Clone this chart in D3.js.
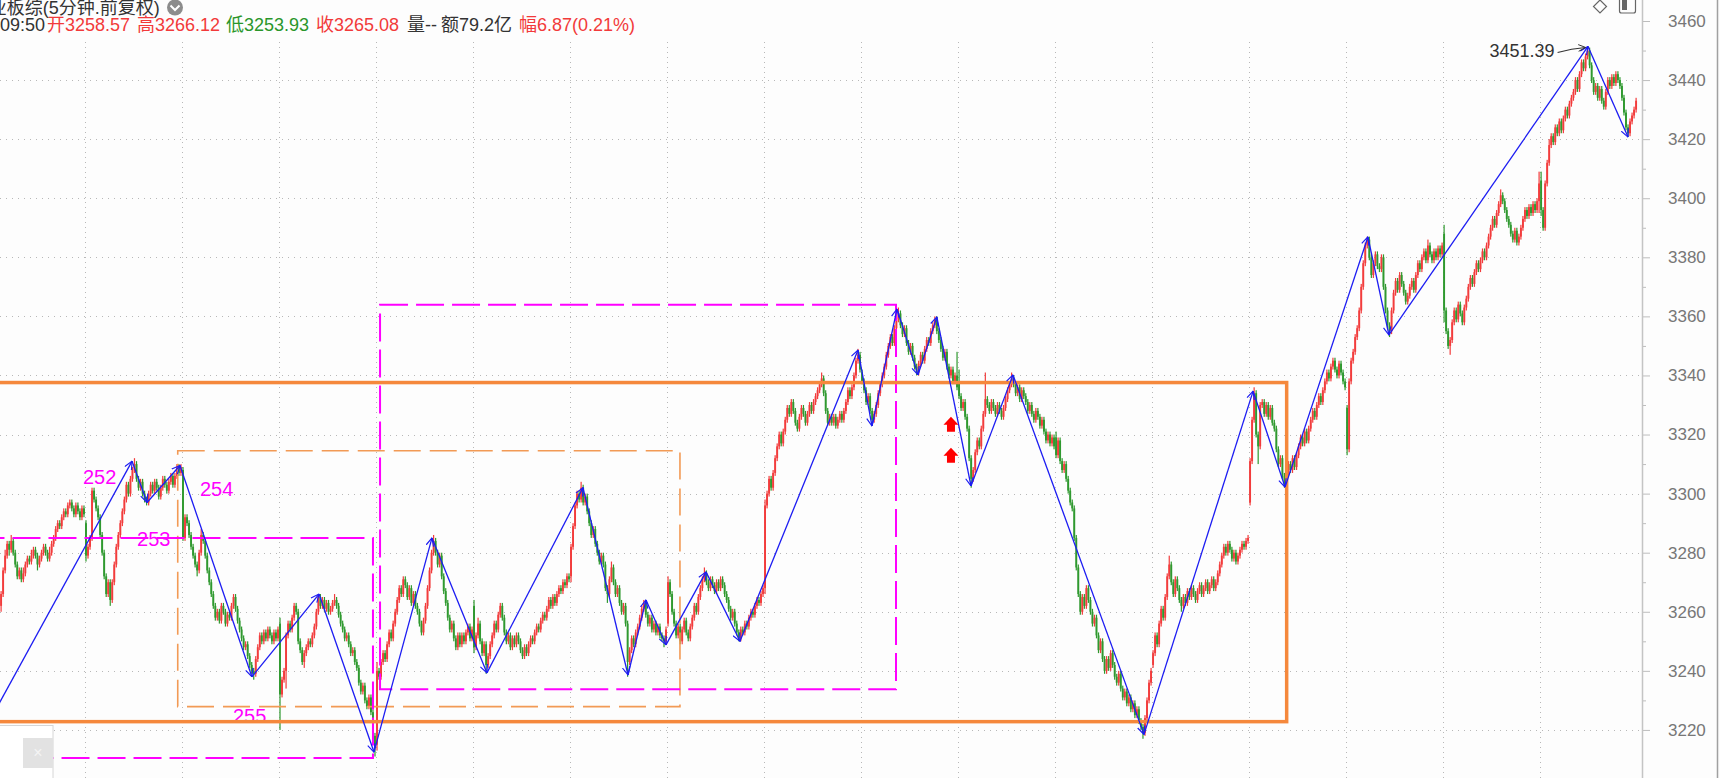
<!DOCTYPE html>
<html><head><meta charset="utf-8">
<script src="https://cdn.jsdelivr.net/npm/d3@7"></script>
<style>html,body{margin:0;padding:0;background:#fdfdfd;overflow:hidden}svg{display:block}</style>
</head><body>
<svg id="chart" width="1720" height="778"></svg>
<script>
// ---------- DATA: 5-minute bars (one line per trading day) ----------
const open = [
3262,3266,3274,3279,3283,3281,3284,3280,3276,3272,3274,3271,3273,3276,3278,3277,3279,3281,3279,3276,3278,3280,3282,3280,3278,3280,3283,3285,3288,3290,3289,3292,3294,3293,3296,3297,3295,3293,3296,3294,3292,3295,
3290,3279,3282,3285,3301,3298,3295,3292,3286,3280,3272,3266,3270,3264,3270,3276,3282,3286,3290,3294,3298,3303,3300,3305,3308,3310,3305,3302,3304,3300,3298,3297,3300,3303,3301,3304,3302,3299,3302,3305,3303,3301,3304,3306,3303,3306,3309,3307,
3308,3285,3292,3290,3286,3282,3279,3276,3274,3280,3286,3284,3279,3274,3270,3266,3262,3258,3260,3257,3262,3260,3256,3259,3258,3262,3265,3261,3257,3254,3251,3248,3249,3245,3242,3240,3239,3244,3248,3252,3250,3253,3251,3254,3252,3250,3253,3251,
3256,3232,3237,3240,3252,3256,3254,3258,3262,3260,3250,3247,3243,3246,3248,3250,3249,3252,3255,3260,3265,3262,3264,3261,3263,3260,3261,3263,3264,3262,3259,3256,3254,3251,3252,3249,3246,3247,3243,3241,3236,3233,3235,3230,3228,3231,3226,3218,
3215,3240,3238,3243,3246,3244,3249,3253,3251,3256,3260,3264,3268,3266,3271,3269,3265,3268,3263,3266,3262,3260,3256,3253,3257,3262,3268,3274,3280,3284,3280,3276,3279,3272,3267,3263,3258,3254,3256,3251,3248,3252,3249,3252,3250,3253,3255,3251,
3262,3248,3252,3256,3250,3246,3249,3242,3245,3249,3252,3256,3254,3259,3262,3258,3253,3250,3252,3248,3251,3249,3252,3250,3247,3245,3248,3246,3249,3251,3250,3253,3255,3254,3257,3259,3258,3261,3264,3262,3265,3263,3266,3268,3267,3270,3269,3272,
3272,3282,3289,3296,3300,3298,3302,3297,3299,3294,3290,3286,3288,3283,3280,3277,3279,3276,3268,3266,3271,3275,3270,3266,3268,3263,3260,3262,3256,3243,3247,3251,3249,3253,3255,3258,3261,3263,3259,3256,3258,3254,3256,3253,3255,3252,3251,3250,
3256,3270,3266,3260,3256,3252,3255,3250,3254,3257,3253,3251,3255,3258,3262,3260,3265,3268,3271,3273,3270,3268,3271,3269,3267,3270,3268,3271,3269,3266,3264,3261,3258,3260,3256,3253,3251,3254,3253,3256,3255,3258,3260,3259,3262,3264,3263,3266,
3268,3296,3300,3305,3302,3307,3312,3316,3320,3317,3321,3325,3329,3327,3331,3328,3324,3322,3326,3329,3327,3324,3327,3330,3328,3331,3333,3335,3337,3339,3334,3328,3324,3326,3324,3326,3323,3325,3327,3325,3328,3331,3335,3333,3336,3340,3345,3347,
3341,3338,3335,3331,3333,3328,3325,3327,3330,3334,3337,3340,3343,3347,3350,3353,3351,3356,3359,3361,3357,3354,3356,3351,3348,3350,3346,3343,3341,3344,3347,3345,3349,3352,3351,3355,3357,3359,3355,3352,3349,3346,3348,3343,3340,3342,3338,3340,
3338,3333,3329,3331,3326,3322,3312,3305,3308,3314,3318,3316,3322,3327,3332,3330,3328,3331,3329,3327,3330,3328,3326,3329,3332,3335,3337,3339,3337,3334,3336,3332,3335,3333,3331,3328,3330,3327,3325,3328,3326,3323,3325,3321,3318,3320,3317,3319,
3319,3313,3318,3311,3308,3310,3305,3301,3297,3295,3285,3275,3266,3260,3265,3262,3268,3264,3260,3256,3258,3252,3247,3250,3244,3240,3244,3241,3246,3242,3238,3236,3239,3234,3231,3233,3229,3231,3227,3229,3225,3227,3223,3221,3219,3224,3230,3236,
3242,3246,3252,3249,3256,3261,3258,3265,3272,3276,3270,3266,3271,3268,3264,3262,3265,3263,3267,3265,3268,3266,3264,3267,3269,3266,3268,3270,3267,3269,3271,3268,3270,3273,3276,3279,3282,3280,3283,3281,3278,3280,3277,3279,3281,3283,3282,3284,
3297,3311,3325,3334,3320,3316,3330,3331,3327,3330,3326,3329,3324,3322,3315,3310,3312,3306,3303,3307,3310,3308,3312,3309,3313,3316,3319,3317,3321,3318,3322,3325,3328,3326,3330,3333,3331,3335,3338,3341,3339,3343,3345,3342,3340,3344,3341,3338,
3329,3315,3338,3345,3348,3353,3356,3362,3370,3378,3384,3386,3380,3374,3378,3381,3377,3376,3380,3370,3362,3357,3355,3362,3368,3372,3369,3374,3371,3368,3365,3367,3370,3372,3369,3374,3378,3376,3380,3382,3379,3384,3381,3379,3382,3380,3383,3381,
3388,3362,3355,3350,3352,3358,3362,3359,3364,3361,3358,3363,3366,3370,3373,3371,3375,3378,3376,3379,3382,3380,3384,3387,3390,3393,3391,3395,3398,3401,3399,3396,3393,3391,3388,3386,3389,3385,3387,3390,3393,3396,3394,3397,3395,3398,3396,3399,
3406,3396,3390,3405,3412,3418,3421,3419,3424,3422,3426,3423,3427,3430,3428,3432,3434,3436,3440,3437,3442,3446,3444,3448,3450,3445,3440,3436,3438,3434,3437,3433,3431,3436,3440,3438,3441,3439,3442,3440,3438,3434,3429,3424,3422,3426,3428,3430
];
const high = [
3267,3275,3281,3284,3284,3286,3285,3281,3277,3275,3275,3275,3277,3279,3279,3281,3282,3282,3280,3279,3281,3283,3283,3281,3282,3284,3286,3289,3291,3291,3293,3295,3295,3297,3298,3298,3296,3297,3297,3295,3296,3296,
3291,3283,3286,3302,3302,3299,3296,3293,3287,3281,3273,3271,3271,3271,3277,3283,3287,3291,3295,3299,3304,3304,3306,3309,3312,3311,3306,3305,3305,3301,3299,3301,3304,3304,3305,3305,3303,3303,3306,3306,3304,3305,3307,3307,3307,3310,3310,3310,
3309,3293,3293,3291,3287,3283,3280,3277,3281,3288,3287,3285,3280,3275,3271,3267,3263,3261,3261,3263,3263,3261,3260,3260,3263,3266,3266,3262,3258,3255,3252,3250,3250,3246,3243,3241,3245,3249,3253,3253,3254,3254,3255,3255,3253,3254,3254,3255,
3258,3238,3241,3253,3257,3257,3259,3263,3263,3261,3251,3248,3247,3249,3251,3251,3253,3256,3261,3266,3266,3265,3265,3264,3264,3262,3264,3266,3265,3263,3260,3257,3255,3253,3253,3250,3248,3248,3244,3242,3237,3236,3236,3231,3232,3232,3227,3219,
3243,3241,3244,3247,3247,3250,3254,3254,3257,3261,3265,3269,3269,3272,3272,3270,3269,3269,3267,3267,3263,3261,3257,3258,3263,3269,3275,3281,3286,3285,3281,3280,3280,3273,3268,3264,3259,3257,3257,3252,3253,3253,3253,3253,3254,3256,3256,3255,
3264,3253,3258,3257,3251,3250,3250,3246,3250,3253,3257,3257,3260,3263,3263,3259,3254,3253,3253,3252,3252,3253,3253,3251,3248,3249,3249,3250,3252,3252,3254,3256,3256,3258,3260,3260,3262,3265,3265,3266,3266,3267,3269,3269,3271,3271,3273,3273,
3283,3290,3297,3301,3301,3304,3303,3300,3300,3295,3291,3289,3289,3284,3281,3280,3280,3277,3269,3272,3277,3276,3271,3269,3269,3264,3263,3263,3257,3248,3252,3252,3254,3256,3259,3262,3264,3264,3260,3259,3259,3257,3257,3256,3256,3253,3252,3255,
3272,3271,3267,3261,3257,3256,3256,3255,3258,3258,3254,3256,3259,3263,3263,3266,3269,3272,3275,3274,3271,3272,3272,3270,3271,3271,3272,3272,3270,3267,3265,3262,3261,3261,3257,3254,3255,3255,3257,3257,3259,3261,3261,3263,3265,3265,3267,3269,
3298,3301,3306,3306,3308,3313,3317,3321,3321,3322,3326,3330,3330,3332,3332,3329,3325,3327,3330,3330,3328,3328,3331,3331,3332,3334,3336,3338,3341,3340,3335,3329,3327,3327,3327,3327,3326,3328,3328,3329,3332,3336,3336,3337,3341,3346,3349,3348,
3342,3339,3336,3334,3334,3329,3328,3331,3335,3338,3341,3344,3348,3351,3354,3354,3357,3360,3363,3362,3358,3357,3357,3352,3351,3351,3347,3344,3345,3348,3348,3350,3353,3353,3356,3358,3360,3360,3356,3353,3350,3349,3349,3344,3343,3343,3341,3348,
3342,3334,3332,3332,3327,3323,3313,3309,3315,3319,3319,3323,3328,3341,3333,3331,3332,3332,3330,3331,3331,3329,3330,3333,3336,3338,3341,3340,3338,3337,3337,3336,3336,3334,3332,3331,3331,3328,3329,3329,3327,3326,3326,3322,3321,3321,3320,3320,
3321,3319,3319,3312,3311,3311,3306,3302,3298,3296,3286,3276,3267,3266,3266,3269,3269,3265,3261,3259,3259,3253,3251,3251,3245,3245,3245,3247,3247,3243,3239,3240,3240,3235,3234,3234,3232,3232,3230,3230,3228,3228,3224,3222,3225,3231,3237,3241,
3247,3253,3253,3257,3262,3262,3266,3273,3279,3277,3271,3272,3272,3269,3265,3266,3266,3268,3268,3269,3269,3267,3268,3270,3270,3269,3271,3271,3270,3272,3272,3271,3274,3277,3280,3283,3283,3284,3284,3282,3281,3281,3280,3282,3284,3284,3285,3286,
3312,3326,3336,3335,3321,3331,3332,3332,3331,3331,3330,3330,3325,3323,3316,3313,3313,3307,3308,3311,3311,3313,3313,3314,3317,3320,3320,3322,3322,3323,3326,3329,3329,3331,3334,3334,3336,3339,3342,3342,3344,3346,3346,3343,3345,3345,3342,3339,
3330,3339,3346,3349,3354,3357,3363,3371,3379,3385,3387,3387,3381,3379,3382,3382,3378,3381,3381,3371,3363,3358,3363,3369,3373,3373,3375,3375,3372,3369,3368,3371,3373,3373,3375,3379,3379,3381,3383,3383,3386,3385,3382,3383,3383,3384,3384,3385,
3391,3363,3356,3353,3359,3363,3363,3365,3365,3362,3364,3367,3371,3374,3374,3376,3379,3379,3380,3383,3383,3385,3388,3391,3394,3394,3396,3399,3403,3402,3400,3397,3394,3392,3389,3390,3390,3388,3391,3394,3397,3397,3398,3398,3399,3399,3400,3409,
3409,3397,3406,3413,3420,3422,3422,3425,3425,3427,3427,3428,3431,3431,3433,3435,3437,3441,3441,3443,3447,3447,3449,3451.4,3451,3446,3441,3439,3439,3438,3438,3434,3437,3441,3441,3442,3442,3443,3443,3441,3439,3435,3430,3425,3427,3429,3431,3434
];
const low = [
3260,3265,3273,3278,3279,3280,3279,3275,3271,3271,3270,3270,3272,3275,3276,3276,3278,3278,3274,3275,3277,3279,3279,3277,3277,3279,3282,3284,3287,3288,3288,3291,3292,3292,3295,3294,3292,3292,3293,3291,3291,3292,
3277,3278,3281,3284,3297,3294,3291,3285,3279,3271,3265,3265,3262,3263,3269,3275,3281,3285,3289,3293,3297,3299,3299,3304,3307,3304,3301,3301,3299,3297,3296,3296,3299,3300,3300,3301,3298,3298,3301,3302,3300,3300,3303,3302,3302,3305,3306,3306,
3284,3284,3289,3285,3281,3278,3275,3272,3273,3279,3283,3278,3273,3269,3265,3261,3257,3257,3256,3256,3259,3255,3255,3257,3257,3261,3260,3256,3253,3250,3247,3247,3244,3241,3239,3237,3238,3243,3247,3249,3249,3250,3250,3251,3249,3249,3250,3250,
3220,3231,3236,3234,3251,3253,3253,3257,3259,3249,3246,3242,3241,3245,3247,3248,3248,3251,3254,3259,3261,3261,3260,3260,3259,3259,3260,3262,3261,3258,3255,3253,3250,3250,3248,3245,3245,3242,3240,3235,3232,3232,3229,3227,3227,3225,3217,3211,
3213,3237,3237,3242,3243,3243,3248,3250,3250,3255,3259,3263,3265,3265,3268,3264,3264,3262,3262,3261,3259,3255,3252,3252,3256,3261,3267,3273,3279,3279,3275,3275,3271,3266,3262,3257,3253,3253,3250,3247,3247,3248,3248,3249,3249,3252,3250,3250,
3246,3247,3251,3249,3245,3245,3239,3241,3244,3248,3251,3253,3253,3258,3257,3252,3249,3249,3247,3247,3248,3248,3249,3246,3244,3244,3245,3245,3248,3249,3249,3252,3253,3253,3256,3257,3257,3260,3261,3261,3262,3262,3265,3266,3266,3268,3268,3270,
3270,3281,3288,3295,3297,3297,3296,3296,3293,3289,3285,3285,3282,3279,3276,3276,3275,3267,3263,3265,3270,3269,3265,3265,3262,3259,3259,3255,3238,3242,3246,3248,3248,3252,3254,3257,3260,3258,3255,3255,3253,3253,3252,3252,3251,3250,3248,3249,
3255,3265,3259,3255,3251,3251,3249,3249,3253,3252,3250,3250,3254,3257,3259,3259,3264,3267,3270,3269,3267,3267,3268,3266,3266,3267,3267,3268,3265,3263,3260,3257,3257,3255,3252,3250,3250,3252,3252,3254,3254,3257,3258,3258,3261,3262,3262,3265,
3266,3295,3299,3301,3301,3306,3311,3315,3316,3316,3320,3324,3326,3326,3327,3323,3321,3321,3325,3326,3323,3323,3326,3327,3327,3330,3332,3334,3336,3333,3327,3323,3323,3323,3323,3322,3322,3324,3324,3324,3327,3330,3332,3332,3335,3339,3344,3341,
3337,3334,3330,3330,3327,3323,3324,3326,3329,3333,3336,3339,3342,3346,3349,3350,3350,3355,3358,3356,3353,3353,3350,3347,3347,3345,3342,3340,3340,3343,3344,3344,3348,3350,3350,3354,3356,3354,3351,3348,3345,3345,3342,3339,3339,3337,3337,3335,
3332,3328,3328,3325,3321,3311,3302,3304,3307,3313,3315,3315,3321,3326,3329,3327,3327,3328,3326,3326,3327,3325,3325,3328,3331,3334,3336,3336,3333,3333,3331,3331,3332,3330,3327,3327,3326,3324,3324,3325,3322,3322,3320,3317,3317,3316,3316,3315,
3312,3312,3310,3307,3307,3304,3300,3296,3294,3284,3274,3265,3259,3259,3261,3261,3263,3259,3255,3255,3251,3246,3246,3243,3239,3239,3240,3240,3241,3237,3235,3235,3233,3230,3230,3228,3228,3226,3226,3224,3224,3222,3220,3217,3218,3223,3229,3235,
3241,3245,3248,3248,3255,3257,3257,3264,3271,3269,3265,3265,3267,3263,3260,3261,3262,3262,3264,3264,3265,3263,3263,3266,3265,3265,3267,3266,3266,3268,3267,3267,3269,3272,3275,3278,3279,3279,3280,3277,3277,3276,3276,3278,3280,3281,3281,3283,
3296,3310,3324,3319,3310,3315,3329,3326,3326,3325,3325,3323,3321,3314,3309,3309,3305,3302,3302,3306,3307,3307,3308,3308,3312,3315,3316,3316,3317,3317,3321,3324,3325,3325,3329,3330,3330,3334,3337,3338,3338,3342,3341,3339,3339,3340,3337,3335,
3313,3314,3337,3344,3347,3352,3355,3361,3369,3377,3383,3379,3373,3373,3377,3376,3375,3375,3369,3361,3356,3353,3354,3361,3367,3368,3368,3370,3367,3364,3364,3366,3369,3368,3368,3373,3375,3375,3379,3378,3378,3380,3378,3378,3379,3379,3380,3380,
3358,3354,3349,3347,3351,3357,3358,3358,3360,3357,3357,3362,3365,3369,3370,3370,3374,3375,3375,3378,3379,3379,3383,3386,3389,3390,3390,3394,3397,3398,3395,3392,3390,3387,3385,3385,3384,3384,3386,3389,3392,3393,3393,3394,3394,3395,3395,3395,
3394,3389,3389,3404,3411,3417,3418,3418,3421,3421,3422,3422,3426,3427,3427,3431,3433,3435,3436,3436,3441,3443,3443,3447,3444,3439,3435,3435,3433,3433,3432,3430,3430,3435,3437,3437,3438,3438,3439,3437,3433,3428,3423,3420.7,3421,3425,3427,3429
];
const close = [
3266,3274,3279,3283,3281,3284,3280,3276,3272,3274,3271,3273,3276,3278,3277,3279,3281,3279,3276,3278,3280,3282,3280,3278,3280,3283,3285,3288,3290,3289,3292,3294,3293,3296,3297,3295,3293,3296,3294,3292,3295,3293,
3279,3282,3285,3301,3298,3295,3292,3286,3280,3272,3266,3270,3264,3270,3276,3282,3286,3290,3294,3298,3303,3300,3305,3308,3310,3305,3302,3304,3300,3298,3297,3300,3303,3301,3304,3302,3299,3302,3305,3303,3301,3304,3306,3303,3306,3309,3307,3309,
3285,3292,3290,3286,3282,3279,3276,3274,3280,3286,3284,3279,3274,3270,3266,3262,3258,3260,3257,3262,3260,3256,3259,3258,3262,3265,3261,3257,3254,3251,3248,3249,3245,3242,3240,3239,3244,3248,3252,3250,3253,3251,3254,3252,3250,3253,3251,3254,
3232,3237,3240,3252,3256,3254,3258,3262,3260,3250,3247,3243,3246,3248,3250,3249,3252,3255,3260,3265,3262,3264,3261,3263,3260,3261,3263,3264,3262,3259,3256,3254,3251,3252,3249,3246,3247,3243,3241,3236,3233,3235,3230,3228,3231,3226,3218,3214,
3240,3238,3243,3246,3244,3249,3253,3251,3256,3260,3264,3268,3266,3271,3269,3265,3268,3263,3266,3262,3260,3256,3253,3257,3262,3268,3274,3280,3284,3280,3276,3279,3272,3267,3263,3258,3254,3256,3251,3248,3252,3249,3252,3250,3253,3255,3251,3254,
3248,3252,3256,3250,3246,3249,3242,3245,3249,3252,3256,3254,3259,3262,3258,3253,3250,3252,3248,3251,3249,3252,3250,3247,3245,3248,3246,3249,3251,3250,3253,3255,3254,3257,3259,3258,3261,3264,3262,3265,3263,3266,3268,3267,3270,3269,3272,3271,
3282,3289,3296,3300,3298,3302,3297,3299,3294,3290,3286,3288,3283,3280,3277,3279,3276,3268,3266,3271,3275,3270,3266,3268,3263,3260,3262,3256,3243,3247,3251,3249,3253,3255,3258,3261,3263,3259,3256,3258,3254,3256,3253,3255,3252,3251,3250,3254,
3270,3266,3260,3256,3252,3255,3250,3254,3257,3253,3251,3255,3258,3262,3260,3265,3268,3271,3273,3270,3268,3271,3269,3267,3270,3268,3271,3269,3266,3264,3261,3258,3260,3256,3253,3251,3254,3253,3256,3255,3258,3260,3259,3262,3264,3263,3266,3268,
3296,3300,3305,3302,3307,3312,3316,3320,3317,3321,3325,3329,3327,3331,3328,3324,3322,3326,3329,3327,3324,3327,3330,3328,3331,3333,3335,3337,3339,3334,3328,3324,3326,3324,3326,3323,3325,3327,3325,3328,3331,3335,3333,3336,3340,3345,3347,3342,
3338,3335,3331,3333,3328,3325,3327,3330,3334,3337,3340,3343,3347,3350,3353,3351,3356,3359,3361,3357,3354,3356,3351,3348,3350,3346,3343,3341,3344,3347,3345,3349,3352,3351,3355,3357,3359,3355,3352,3349,3346,3348,3343,3340,3342,3338,3340,3336,
3333,3329,3331,3326,3322,3312,3305,3308,3314,3318,3316,3322,3327,3332,3330,3328,3331,3329,3327,3330,3328,3326,3329,3332,3335,3337,3339,3337,3334,3336,3332,3335,3333,3331,3328,3330,3327,3325,3328,3326,3323,3325,3321,3318,3320,3317,3319,3316,
3313,3318,3311,3308,3310,3305,3301,3297,3295,3285,3275,3266,3260,3265,3262,3268,3264,3260,3256,3258,3252,3247,3250,3244,3240,3244,3241,3246,3242,3238,3236,3239,3234,3231,3233,3229,3231,3227,3229,3225,3227,3223,3221,3219,3224,3230,3236,3240,
3246,3252,3249,3256,3261,3258,3265,3272,3276,3270,3266,3271,3268,3264,3262,3265,3263,3267,3265,3268,3266,3264,3267,3269,3266,3268,3270,3267,3269,3271,3268,3270,3273,3276,3279,3282,3280,3283,3281,3278,3280,3277,3279,3281,3283,3282,3284,3285,
3311,3325,3334,3320,3316,3330,3331,3327,3330,3326,3329,3324,3322,3315,3310,3312,3306,3303,3307,3310,3308,3312,3309,3313,3316,3319,3317,3321,3318,3322,3325,3328,3326,3330,3333,3331,3335,3338,3341,3339,3343,3345,3342,3340,3344,3341,3338,3336,
3315,3338,3345,3348,3353,3356,3362,3370,3378,3384,3386,3380,3374,3378,3381,3377,3376,3380,3370,3362,3357,3355,3362,3368,3372,3369,3374,3371,3368,3365,3367,3370,3372,3369,3374,3378,3376,3380,3382,3379,3384,3381,3379,3382,3380,3383,3381,3384,
3362,3355,3350,3352,3358,3362,3359,3364,3361,3358,3363,3366,3370,3373,3371,3375,3378,3376,3379,3382,3380,3384,3387,3390,3393,3391,3395,3398,3401,3399,3396,3393,3391,3388,3386,3389,3385,3387,3390,3393,3396,3394,3397,3395,3398,3396,3399,3405,
3396,3390,3405,3412,3418,3421,3419,3424,3422,3426,3423,3427,3430,3428,3432,3434,3436,3440,3437,3442,3446,3444,3448,3450,3445,3440,3436,3438,3434,3437,3433,3431,3436,3440,3438,3441,3439,3442,3440,3438,3434,3429,3424,3422,3426,3428,3430,3433
];
// first bar index of each trading day (day separators)
const dayStarts = [42,90,138,186,234,282,330,378,426,474,522,570,618,666,714,762];
// zigzag pivots (bar index, price)
const pivotBars   = [-15,64.8,72.2,88.5,124.1,157.3,184.5,213.2,240.4,287.9,310.2,319.1,329,348.8,365.6,424,430.9,443.3,453.7,463,479.9,500.7,565.5,619.5,635.3,676.3,686.7,785.2,805];
const pivotValues = [3211.5,3311,3297,3309.5,3238,3266,3212.5,3285,3239.3,3302,3238.6,3264,3248.8,3273.5,3250,3348.6,3322.9,3362.5,3340.2,3359.8,3302.6,3340.2,3218.5,3334.7,3302.2,3386.9,3353.7,3451.39,3420.7];
// zones: [startBar, endBar, top, bottom]
const magentaZones = [[-30,184,3285,3210.5],[187.5,442.8,3363.9,3233.8]];
const orangeDashZones = [[87.4,335.9,3314.5,3227.9]];
const orangeZones = [[-30,636.1,3337.6,3222.8]];
// segment labels
const segLabels = ['252','253','254','255'];
const segLabelBars = [40.5,67.3,98.4,114.7];
const segLabelValues = [3303.4,3282.3,3299.2,3222.4];
// signal arrows
const signalBars = [470,470];
const signalValues = [3326,3315.5];
// axis ticks
const majorTicks = [3220,3240,3260,3280,3300,3320,3340,3360,3380,3400,3420,3440,3460];
const minorTicks = [3230,3250,3270,3290,3310,3330,3350,3370,3390,3410,3430,3450];
const peakBar = 785, peakValue = 3451.39;
// header quote
const hdrTitle = '业板综(5分钟.前复权)';
const hdrItems = [['09:50','#333'],['开3258.57','#f23a3a'],['高3266.12','#f23a3a'],['低3253.93','#2a962a'],['收3265.08','#f23a3a'],['量--','#333'],['额79.2亿','#333'],['幅6.87(0.21%)','#f23a3a']];
const hdrX = [0,47,137,226,316,407,441,519];

// ---------- DRAW ----------
const UP='#f23c3c', DOWN='#2f992f', BLUE='#1c1cf2', MAG='#ff00ff', ORG='#f5883c', ORG2='#f29a55';
const FONT='"Liberation Sans","Noto Sans CJK SC",sans-serif';
const svg=d3.select('#chart');
const x=d3.scaleLinear().domain([0,809]).range([1.1,1636.1]);
const y=d3.scaleLinear().domain([3200,3460]).range([789,21]);
const AX=1642;

svg.append('rect').attr('width',1720).attr('height',778).attr('fill','#fdfdfd');
const defs=svg.append('defs');
defs.append('marker').attr('id','arrB').attr('viewBox','0 0 10 10').attr('refX',9.5).attr('refY',5)
  .attr('markerWidth',9).attr('markerHeight',9).attr('markerUnits','userSpaceOnUse').attr('orient','auto')
  .append('path').attr('d','M0.5,0.8 L9.5,5 L0.5,9.2').attr('fill','none').attr('stroke',BLUE).attr('stroke-width',1.3);
defs.append('marker').attr('id','arrK').attr('viewBox','0 0 10 10').attr('refX',9.5).attr('refY',5)
  .attr('markerWidth',8).attr('markerHeight',8).attr('markerUnits','userSpaceOnUse').attr('orient','auto')
  .append('path').attr('d','M0.5,0.8 L9.5,5 L0.5,9.2').attr('fill','none').attr('stroke','#333').attr('stroke-width',1.2);

// grid
const grid=svg.append('g');
grid.selectAll('line.h').data(majorTicks.filter(v=>v<3460)).join('line').attr('class','h')
  .attr('x1',0).attr('x2',AX).attr('y1',d=>Math.round(y(d))+0.5).attr('y2',d=>Math.round(y(d))+0.5)
  .attr('stroke','#b8b8b8').attr('stroke-width',1).attr('stroke-dasharray','1,5');
grid.selectAll('line.v').data(dayStarts).join('line').attr('class','v')
  .attr('x1',d=>Math.round(x(d)-1)+0.5).attr('x2',d=>Math.round(x(d)-1)+0.5).attr('y1',42).attr('y2',778)
  .attr('stroke','#b8b8b8').attr('stroke-width',1).attr('stroke-dasharray','1,4');

// candles
const n=Math.min(open.length,high.length,low.length,close.length);
const idx=d3.range(n);
const col=i=>close[i]>=open[i]?UP:DOWN;
const gc=svg.append('g');
gc.selectAll('rect.w').data(idx).join('rect').attr('class','w')
  .attr('x',i=>x(i)-0.6).attr('width',1.2).attr('y',i=>y(high[i])).attr('height',i=>Math.max(1,y(low[i])-y(high[i]))).attr('fill',col);
gc.selectAll('rect.b').data(idx).join('rect').attr('class','b')
  .attr('x',i=>x(i)-0.95).attr('width',1.9).attr('y',i=>y(Math.max(open[i],close[i])))
  .attr('height',i=>Math.max(1,Math.abs(y(open[i])-y(close[i])))).attr('fill',col);

// zones
function zone(g,data,color,w,dash){
  g.selectAll(null).data(data).join('rect')
   .attr('x',d=>x(d[0])).attr('y',d=>y(d[2])).attr('width',d=>x(d[1])-x(d[0])).attr('height',d=>y(d[3])-y(d[2]))
   .attr('fill','none').attr('stroke',color).attr('stroke-width',w).attr('stroke-dasharray',dash);
}
const gz=svg.append('g');
zone(gz,orangeDashZones,ORG2,1.6,'27,9');
zone(gz,magentaZones,MAG,2,'28,8');
// labels
svg.append('g').selectAll('text').data(segLabels).join('text')
  .attr('x',(d,i)=>x(segLabelBars[i])).attr('y',(d,i)=>y(segLabelValues[i]))
  .attr('fill',MAG).style('font','20px '+FONT).text(d=>d);
zone(svg.append('g'),orangeZones,ORG,3.5,null);

// zigzag
const gzz=svg.append('g');
gzz.selectAll('line').data(d3.range(1,pivotBars.length)).join('line')
  .attr('x1',i=>x(pivotBars[i-1])).attr('y1',i=>y(pivotValues[i-1]))
  .attr('x2',i=>x(pivotBars[i])).attr('y2',i=>y(pivotValues[i]))
  .attr('stroke',BLUE).attr('stroke-width',1.3).attr('marker-end','url(#arrB)');

// signal arrows
svg.append('g').selectAll('path').data(signalBars).join('path')
  .attr('transform',(d,i)=>`translate(${x(d)},${y(signalValues[i])})`)
  .attr('d','M0,0 L7.5,8 L4,8 L4,15 L-4,15 L-4,8 L-7.5,8 Z').attr('fill','#ff0000');

// peak annotation
const px=x(peakBar), py=y(peakValue);
svg.append('text').attr('x',px-33).attr('y',py+11).attr('text-anchor','end').attr('fill','#333')
  .style('font','18px '+FONT).text(peakValue.toFixed(2));
svg.append('path').attr('d',`M${px-30},${py+6} Q${px-16},${py+2} ${px-2},${py+1}`).attr('fill','none')
  .attr('stroke','#333').attr('stroke-width',1.1).attr('marker-end','url(#arrK)');

// axis
svg.append('rect').attr('x',AX).attr('y',0).attr('width',1720-AX).attr('height',778).attr('fill','#fdfdfd');
const ga=svg.append('g').attr('transform',`translate(${AX},0)`)
  .call(d3.axisRight(y).tickValues(majorTicks).tickSize(8).tickPadding(18).tickFormat(d3.format('d')));
ga.select('.domain').remove();
ga.selectAll('line').attr('stroke','#bdbdbd');
ga.selectAll('text').attr('fill','#777').style('font','17px '+FONT);
const gm=svg.append('g').attr('transform',`translate(${AX},0)`)
  .call(d3.axisRight(y).tickValues(minorTicks).tickSize(4).tickFormat(''));
gm.select('.domain').remove();
gm.selectAll('line').attr('stroke','#bdbdbd');
svg.append('line').attr('x1',AX+0.5).attr('x2',AX+0.5).attr('y1',0).attr('y2',778).attr('stroke','#c4c4c4').attr('stroke-width',1.5);
svg.append('line').attr('x1',1717.5).attr('x2',1717.5).attr('y1',0).attr('y2',778).attr('stroke','#a0a0a0').attr('stroke-width',1.5);

// header
const hg=svg.append('g').style('font','18px '+FONT);
hg.append('text').attr('x',-11.3).attr('y',14).attr('fill','#333').text(hdrTitle);
hg.append('circle').attr('cx',175).attr('cy',7.5).attr('r',8).attr('fill','#8c8c8c');
hg.append('path').attr('d','M170.5,5.5 L175,10 L179.5,5.5').attr('fill','none').attr('stroke','#fff').attr('stroke-width',2);
hg.selectAll('text.q').data(hdrItems).join('text').attr('class','q')
  .attr('x',(d,i)=>hdrX[i]).attr('y',31).attr('fill',d=>d[1]).text(d=>d[0]);
// top-right icons
svg.append('path').attr('d','M1600,0 L1606.5,6.5 L1600,13 L1593.5,6.5 Z').attr('fill','none').attr('stroke','#666').attr('stroke-width',1.2);
svg.append('rect').attr('x',1619.5).attr('y',-4).attr('width',16).attr('height',17).attr('rx',2).attr('fill','none').attr('stroke','#666').attr('stroke-width',1.2);
svg.append('rect').attr('x',1622).attr('y',-2).attr('width',5).attr('height',12).attr('fill','#666');

// bottom-left panel
svg.append('rect').attr('x',-1).attr('y',725.5).attr('width',54).attr('height',54).attr('fill','#ffffff').attr('stroke','#d6d6d6');
svg.append('rect').attr('x',23).attr('y',738).attr('width',30).attr('height',30).attr('fill','#e2e2e2');
svg.append('text').attr('x',38).attr('y',758).attr('text-anchor','middle').attr('fill','#f4f4f4').style('font','16px '+FONT).text('×');
</script>
</body></html>
